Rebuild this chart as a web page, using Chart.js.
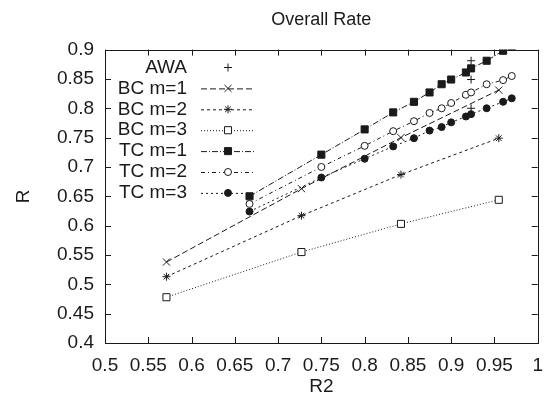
<!DOCTYPE html>
<html>
<head>
<meta charset="utf-8">
<script src="https://cdn.jsdelivr.net/npm/chart.js@4/dist/chart.umd.min.js"></script>
<style>
html, body { margin: 0; padding: 0; background: #fff; }
</style>
</head>
<body>
<canvas id="rateChart" width="554" height="409"></canvas>
<script>
// Données
const xTickLabels = ['0.5', '0.55', '0.6', '0.65', '0.7', '0.75', '0.8', '0.85', '0.9', '0.95', '1'];
const yTickLabels = ['0.4', '0.45', '0.5', '0.55', '0.6', '0.65', '0.7', '0.75', '0.8', '0.85', '0.9'];

const awaR2 = [0.923, 0.923, 0.923];
const awaR = [0.881, 0.849, 0.800];

const bcR2 = [0.571, 0.727, 0.842, 0.955];
const bcM1 = [0.538, 0.663, 0.750, 0.831];
const bcM2 = [0.513, 0.617, 0.687, 0.749];
const bcM3 = [0.478, 0.555, 0.603, 0.644];

const tcR2 = [0.667, 0.75, 0.8, 0.833, 0.857, 0.875, 0.889, 0.9, 0.917, 0.923, 0.941, 0.96, 0.97];
const tcM1 = [0.650, 0.721, 0.764, 0.793, 0.811, 0.827, 0.841, 0.849, 0.861, 0.868, 0.881, 0.898, 0.906];
const tcM2 = [0.637, 0.700, 0.736, 0.761, 0.778, 0.792, 0.800, 0.809, 0.823, 0.827, 0.841, 0.848, 0.855];
const tcM3 = [0.624, 0.682, 0.714, 0.735, 0.749, 0.762, 0.768, 0.776, 0.786, 0.790, 0.800, 0.811, 0.817];

const FONT = 'Liberation Sans, Arial, Helvetica, sans-serif';
const INK = '#1a1a1a';

function pts(xs, ys) {
    return xs.map((x, i) => ({ x: x, y: ys[i] }));
}

function serie(label, xs, ys, style, radius, fill, dash, line) {
    return {
        label: label,
        data: pts(xs, ys),
        showLine: line,
        borderColor: INK,
        borderWidth: 1,
        borderDash: dash,
        pointStyle: style,
        pointRadius: radius,
        pointBackgroundColor: fill,
        pointBorderColor: INK,
        pointBorderWidth: 1
    };
}

const datasets = [
    serie('AWA', awaR2, awaR, 'cross', 4, INK, [], false),
    serie('BC m=1', bcR2, bcM1, 'crossRot', 5, INK, [6, 3], true),
    serie('BC m=2', bcR2, bcM2, 'star', 4, INK, [3, 3], true),
    serie('BC m=3', bcR2, bcM3, 'rect', 5, '#fff', [1, 2], true),
    serie('TC m=1', tcR2, tcM1, 'rect', 5, INK, [6, 2, 1, 2], true),
    serie('TC m=2', tcR2, tcM2, 'circle', 3.5, '#fff', [4, 3, 1, 3], true),
    serie('TC m=3', tcR2, tcM3, 'circle', 3.5, INK, [2, 3], true)
];

// Cadre + graduations vers l'intérieur (style gnuplot)
const cadre = {
    id: 'cadre',
    afterDraw(chart) {
        const ctx = chart.ctx;
        const a = chart.chartArea;
        const xs = chart.scales.x, ys = chart.scales.y;
        ctx.save();
        ctx.strokeStyle = INK;
        ctx.lineWidth = 1;
        ctx.setLineDash([]);
        ctx.strokeRect(Math.round(a.left) + 0.5, Math.round(a.top) + 0.5,
            Math.round(a.right - a.left), Math.round(a.bottom - a.top));
        ctx.beginPath();
        xs.ticks.forEach(t => {
            const px = Math.round(xs.getPixelForValue(t.value)) + 0.5;
            ctx.moveTo(px, a.bottom); ctx.lineTo(px, a.bottom - 6);
            ctx.moveTo(px, a.top); ctx.lineTo(px, a.top + 6);
        });
        ys.ticks.forEach(t => {
            const py = Math.round(ys.getPixelForValue(t.value)) + 0.5;
            ctx.moveTo(a.left, py); ctx.lineTo(a.left + 6, py);
            ctx.moveTo(a.right, py); ctx.lineTo(a.right - 6, py);
        });
        ctx.stroke();
        ctx.restore();
    }
};

// Légende à l'intérieur, texte à gauche et échantillon à droite
const legende = {
    id: 'legende',
    afterDraw(chart) {
        const ctx = chart.ctx;
        ctx.save();
        ctx.font = '19px ' + FONT;
        ctx.textAlign = 'right';
        ctx.textBaseline = 'middle';
        chart.data.datasets.forEach((ds, i) => {
            const y = 67.5 + i * 20.9;
            ctx.fillStyle = INK;
            ctx.fillText(ds.label, 187, y);
            if (ds.showLine) {
                ctx.strokeStyle = INK;
                ctx.lineWidth = 1;
                ctx.setLineDash(ds.borderDash);
                ctx.beginPath();
                ctx.moveTo(201, y + 0.5);
                ctx.lineTo(254, y + 0.5);
                ctx.stroke();
            }
            ctx.setLineDash([]);
            ctx.fillStyle = ds.pointBackgroundColor;
            ctx.strokeStyle = INK;
            ctx.lineWidth = 1;
            Chart.helpers.drawPoint(ctx, {
                pointStyle: ds.pointStyle,
                radius: ds.pointRadius,
                rotation: 0,
                borderWidth: 1
            }, 228, y);
        });
        ctx.restore();
    }
};

const ctx = document.getElementById('rateChart').getContext('2d');
new Chart(ctx, {
    type: 'scatter',
    data: { datasets: datasets },
    plugins: [cadre, legende],
    options: {
        responsive: false,
        animation: false,
        devicePixelRatio: 1,
        layout: { padding: { top: 0, right: 12, bottom: 0, left: 0 } },
        plugins: {
            legend: { display: false },
            tooltip: { enabled: false },
            title: {
                display: true,
                fullSize: false,
                text: 'Overall Rate',
                color: INK,
                font: { family: FONT, size: 18, weight: 'normal' },
                padding: { top: 9, bottom: 19 }
            }
        },
        scales: {
            x: {
                type: 'linear',
                min: 0.5,
                max: 1,
                grid: { display: false, drawTicks: false },
                border: { display: false },
                ticks: {
                    stepSize: 0.05,
                    padding: 11,
                    color: INK,
                    maxRotation: 0,
                    autoSkip: false,
                    font: { family: FONT, size: 19 },
                    callback: (v, i) => xTickLabels[i]
                },
                title: {
                    display: true,
                    text: 'R2',
                    color: INK,
                    font: { family: FONT, size: 19 },
                    padding: { top: 0, bottom: 11 }
                },
                afterFit(s) { s.height = 66; }
            },
            y: {
                type: 'linear',
                min: 0.4,
                max: 0.9,
                grid: { display: false, drawTicks: false },
                border: { display: false },
                ticks: {
                    stepSize: 0.05,
                    padding: 11,
                    color: INK,
                    autoSkip: false,
                    font: { family: FONT, size: 19 },
                    callback: (v, i) => yTickLabels[i]
                },
                title: {
                    display: true,
                    text: 'R',
                    color: INK,
                    font: { family: FONT, size: 19 },
                    padding: { top: 12, bottom: 0 }
                },
                afterFit(s) { s.width = 105; }
            }
        }
    }
});
</script>
</body>
</html>
